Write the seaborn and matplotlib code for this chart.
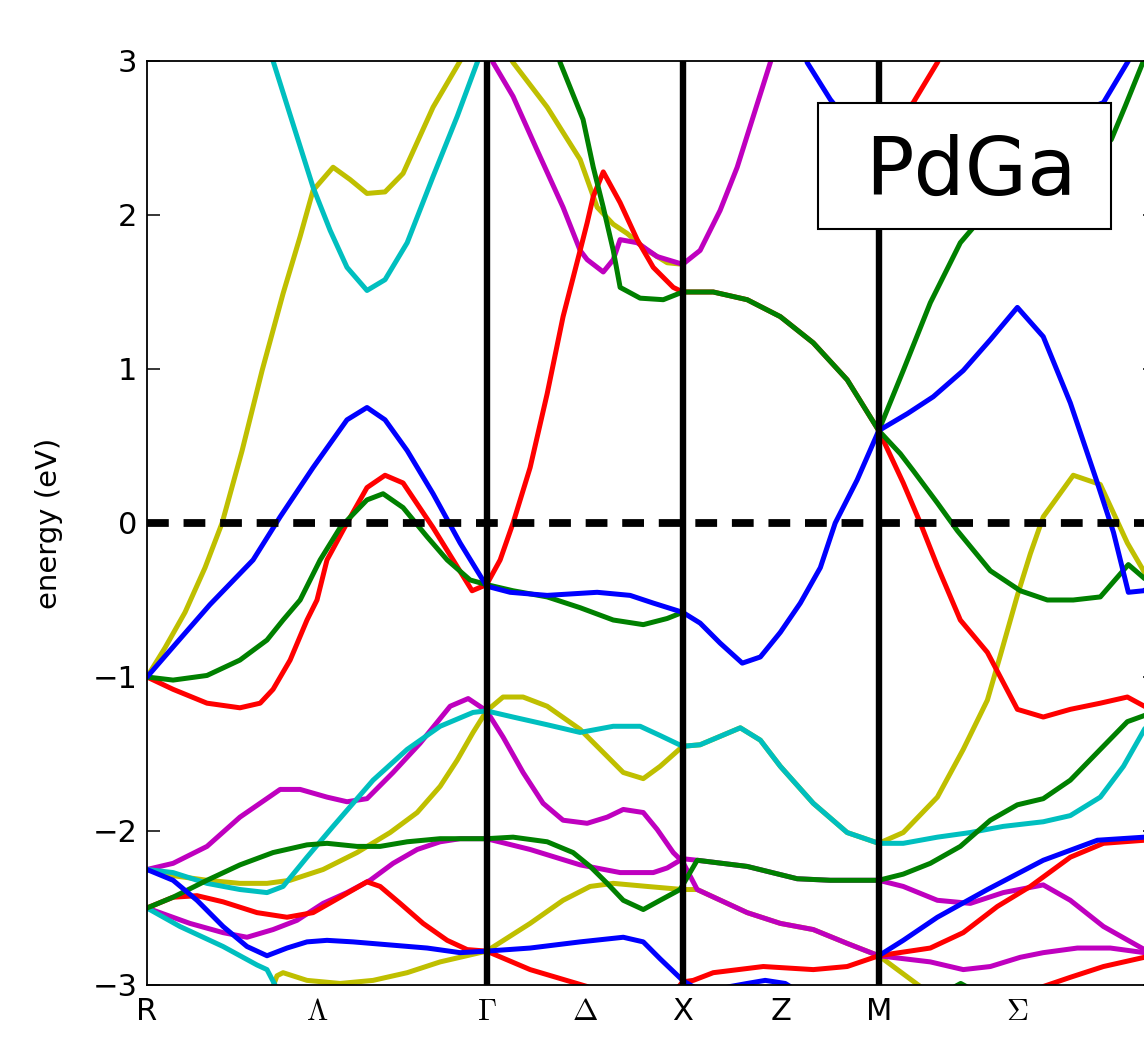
import matplotlib
matplotlib.use("Agg")
import matplotlib.pyplot as plt
import seaborn as sns
from matplotlib.patches import Rectangle

# ---------------- data ----------------
# high-symmetry points along the k-path (path length units)
kpoint_labels = ["R", r"$\Lambda$", r"$\Gamma$", r"$\Delta$", "X", "Z", "M", r"$\Sigma$", r"$\Gamma$"]
kpoint_pos = [0.0, 0.866, 1.732, 2.232, 2.732, 3.232, 3.732, 4.439, 5.146]
kpoint_lines = [1.732, 2.732, 3.732]
energy_ticks = [-3, -2, -1, 0, 1, 2, 3]
title_text = "PdGa"

# band curves: (k, energy in eV)
yellow_1 = [(0, -1.00), (0.092, -0.81), (0.194, -0.58), (0.296, -0.29), (0.383, 0.00), (0.485, 0.47),
            (0.587, 0.99), (0.694, 1.49), (0.781, 1.86), (0.847, 2.16), (0.949, 2.31), (1.036, 2.23),
            (1.122, 2.14), (1.214, 2.15), (1.306, 2.27), (1.459, 2.70), (1.597, 3.00), (1.732, 3.27),
            (1.867, 2.99), (2.041, 2.70), (2.209, 2.36), (2.296, 2.05), (2.378, 1.94), (2.449, 1.88),
            (2.551, 1.77), (2.653, 1.69), (2.732, 1.68)]
yellow_2 = [(0, -2.25), (0.133, -2.29), (0.306, -2.32), (0.474, -2.34), (0.612, -2.34), (0.730, -2.32),
            (0.898, -2.25), (1.071, -2.14), (1.240, -2.01), (1.378, -1.88), (1.495, -1.71), (1.582, -1.54),
            (1.663, -1.36), (1.732, -1.22), (1.816, -1.13), (1.918, -1.13), (2.041, -1.19), (2.209, -1.34),
            (2.327, -1.49), (2.429, -1.62), (2.531, -1.66), (2.617, -1.58), (2.732, -1.45), (2.821, -1.44),
            (3.026, -1.33), (3.128, -1.41), (3.230, -1.58), (3.398, -1.82), (3.571, -2.01), (3.732, -2.08),
            (3.857, -2.01), (4.031, -1.78), (4.163, -1.47), (4.286, -1.15), (4.352, -0.86), (4.439, -0.47),
            (4.505, -0.20), (4.571, 0.04), (4.724, 0.31), (4.862, 0.25), (5.000, -0.13), (5.087, -0.32),
            (5.146, -0.44)]
yellow_3 = [(0.628, -3.06), (0.663, -2.94), (0.694, -2.92), (0.816, -2.97), (0.985, -2.99), (1.153, -2.97),
            (1.327, -2.92), (1.495, -2.85), (1.732, -2.78), (1.954, -2.60), (2.122, -2.45), (2.260, -2.36),
            (2.378, -2.34), (2.551, -2.36), (2.732, -2.38), (2.806, -2.38), (3.061, -2.53), (3.230, -2.60),
            (3.398, -2.64), (3.571, -2.73), (3.732, -2.81), (3.944, -3.01), (3.995, -3.10)]

magenta_top = [(1.732, 3.10), (1.765, 2.99), (1.867, 2.77), (1.990, 2.42), (2.122, 2.05), (2.209, 1.77),
               (2.245, 1.71), (2.327, 1.63), (2.378, 1.71), (2.413, 1.84), (2.500, 1.82), (2.602, 1.73),
               (2.732, 1.68), (2.821, 1.77), (2.923, 2.03), (3.010, 2.31), (3.092, 2.64), (3.179, 2.99),
               (3.219, 3.17)]
magenta_1 = [(0, -2.25), (0.133, -2.21), (0.306, -2.10), (0.474, -1.91), (0.679, -1.73), (0.781, -1.73),
             (0.918, -1.78), (1.020, -1.81), (1.122, -1.79), (1.255, -1.62), (1.393, -1.43), (1.546, -1.19),
             (1.638, -1.14), (1.732, -1.22), (1.816, -1.39), (1.918, -1.62), (2.020, -1.82), (2.122, -1.93),
             (2.245, -1.95), (2.347, -1.91), (2.429, -1.86), (2.531, -1.88), (2.602, -1.99), (2.684, -2.14),
             (2.732, -2.20), (2.806, -2.38), (3.061, -2.53), (3.230, -2.60), (3.398, -2.64), (3.571, -2.73),
             (3.732, -2.81), (3.995, -2.85), (4.163, -2.90), (4.301, -2.88), (4.454, -2.82), (4.571, -2.79),
             (4.745, -2.76), (4.913, -2.76), (5.087, -2.79), (5.146, -2.79)]
magenta_2 = [(0, -2.50), (0.219, -2.60), (0.388, -2.66), (0.510, -2.69), (0.643, -2.64), (0.765, -2.58),
             (0.898, -2.47), (1.020, -2.40), (1.138, -2.32), (1.255, -2.21), (1.378, -2.12), (1.495, -2.07),
             (1.597, -2.05), (1.732, -2.05), (1.954, -2.12), (2.209, -2.22), (2.413, -2.27), (2.582, -2.27),
             (2.653, -2.24), (2.732, -2.18), (2.806, -2.19), (3.061, -2.23), (3.316, -2.31), (3.485, -2.32),
             (3.732, -2.32), (3.857, -2.36), (4.031, -2.45), (4.199, -2.47), (4.367, -2.40), (4.571, -2.35),
             (4.709, -2.45), (4.878, -2.62), (5.087, -2.77), (5.146, -2.79)]

red_1 = [(0, -1.00), (0.133, -1.08), (0.306, -1.17), (0.474, -1.20), (0.577, -1.17), (0.643, -1.08),
         (0.730, -0.89), (0.816, -0.63), (0.867, -0.50), (0.918, -0.24), (1.020, 0.00), (1.122, 0.23),
         (1.214, 0.31), (1.306, 0.26), (1.459, -0.03), (1.561, -0.24), (1.658, -0.44), (1.732, -0.40),
         (1.801, -0.24), (1.867, 0.00), (1.954, 0.36), (2.041, 0.84), (2.122, 1.34), (2.209, 1.77),
         (2.245, 1.95), (2.276, 2.12), (2.327, 2.28), (2.413, 2.08), (2.500, 1.84), (2.582, 1.66),
         (2.684, 1.53), (2.732, 1.50), (2.888, 1.50), (3.061, 1.45), (3.230, 1.34), (3.398, 1.17),
         (3.571, 0.93), (3.732, 0.60), (3.857, 0.26), (3.944, 0.00), (4.031, -0.28), (4.148, -0.63),
         (4.286, -0.84), (4.439, -1.21), (4.571, -1.26), (4.709, -1.21), (4.862, -1.17), (5.000, -1.13),
         (5.087, -1.19), (5.146, -1.22)]
red_2 = [(0, -2.50), (0.133, -2.43), (0.255, -2.42), (0.388, -2.46), (0.561, -2.53), (0.714, -2.56),
         (0.847, -2.53), (0.985, -2.43), (1.122, -2.33), (1.189, -2.36), (1.291, -2.47), (1.408, -2.60),
         (1.531, -2.71), (1.633, -2.77), (1.732, -2.78), (1.954, -2.90), (2.245, -3.01), (2.449, -3.15),
         (2.653, -3.10), (2.732, -2.98), (2.786, -2.97), (2.888, -2.92), (3.143, -2.88), (3.398, -2.90),
         (3.571, -2.88), (3.732, -2.81), (3.995, -2.76), (4.163, -2.66), (4.337, -2.49), (4.505, -2.36),
         (4.709, -2.17), (4.878, -2.08), (5.087, -2.06), (5.146, -2.05)]
red_top = [(3.732, 2.49), (3.908, 2.73), (4.031, 2.99), (4.071, 3.10)]
red_bottom = [(4.454, -3.10), (4.571, -3.01), (4.709, -2.95), (4.878, -2.88), (5.087, -2.82), (5.146, -2.79)]

cyan_1 = [(0.526, 3.36), (0.643, 3.00), (0.730, 2.65), (0.847, 2.18), (0.934, 1.90), (1.020, 1.66),
          (1.122, 1.51), (1.214, 1.58), (1.327, 1.82), (1.459, 2.25), (1.582, 2.64), (1.684, 2.99),
          (1.732, 3.14)]
cyan_2 = [(0, -2.25), (0.133, -2.27), (0.306, -2.34), (0.474, -2.38), (0.612, -2.40), (0.694, -2.36),
          (0.816, -2.17), (0.949, -1.97), (1.051, -1.82), (1.153, -1.67), (1.327, -1.47), (1.495, -1.32),
          (1.663, -1.23), (1.732, -1.22), (1.867, -1.26), (2.041, -1.31), (2.209, -1.36), (2.378, -1.32),
          (2.515, -1.32), (2.617, -1.38), (2.732, -1.45), (2.821, -1.44), (3.026, -1.33), (3.128, -1.41),
          (3.230, -1.58), (3.398, -1.82), (3.571, -2.01), (3.732, -2.08), (3.857, -2.08), (4.031, -2.04),
          (4.199, -2.01), (4.367, -1.97), (4.571, -1.94), (4.709, -1.90), (4.862, -1.78), (4.980, -1.58),
          (5.087, -1.34), (5.146, -1.22)]
cyan_3 = [(0, -2.50), (0.168, -2.62), (0.388, -2.75), (0.561, -2.87), (0.612, -2.90), (0.653, -3.00),
          (0.679, -3.10)]

green_1 = [(0, -1.00), (0.133, -1.02), (0.306, -0.99), (0.474, -0.89), (0.612, -0.76), (0.694, -0.63),
           (0.781, -0.50), (0.883, -0.24), (0.985, -0.03), (1.122, 0.15), (1.204, 0.19), (1.306, 0.10),
           (1.429, -0.09), (1.531, -0.24), (1.648, -0.37), (1.732, -0.40), (1.867, -0.44), (2.041, -0.48),
           (2.209, -0.55), (2.378, -0.63), (2.531, -0.66), (2.653, -0.62), (2.732, -0.58)]
green_2 = [(2.056, 3.30), (2.107, 2.99), (2.224, 2.62), (2.276, 2.31), (2.327, 2.05), (2.378, 1.77),
           (2.413, 1.53), (2.515, 1.46), (2.633, 1.45), (2.732, 1.50), (2.888, 1.50), (3.061, 1.45),
           (3.230, 1.34), (3.398, 1.17), (3.571, 0.93), (3.732, 0.60), (3.857, 0.99), (3.995, 1.43),
           (4.148, 1.82), (4.235, 1.95), (4.352, 2.06), (4.607, 2.21), (4.811, 2.36), (4.918, 2.49),
           (4.990, 2.71), (5.082, 3.00), (5.146, 3.20)]
green_3 = [(0, -2.50), (0.133, -2.43), (0.306, -2.32), (0.474, -2.22), (0.643, -2.14), (0.816, -2.09),
           (0.918, -2.08), (1.071, -2.10), (1.189, -2.10), (1.327, -2.07), (1.495, -2.05), (1.732, -2.05),
           (1.867, -2.04), (2.041, -2.07), (2.173, -2.14), (2.260, -2.23), (2.347, -2.34), (2.429, -2.45),
           (2.531, -2.51), (2.617, -2.45), (2.719, -2.38), (2.806, -2.19), (3.061, -2.23), (3.316, -2.31),
           (3.485, -2.32), (3.732, -2.32), (3.857, -2.28), (3.995, -2.21), (4.148, -2.10), (4.301, -1.93),
           (4.439, -1.83), (4.571, -1.79), (4.709, -1.67), (4.862, -1.47), (5.000, -1.29), (5.087, -1.25),
           (5.146, -1.22)]
green_4 = [(3.732, 0.60), (3.842, 0.45), (3.908, 0.34), (4.031, 0.13), (4.133, -0.05), (4.301, -0.31),
           (4.454, -0.44), (4.592, -0.50), (4.724, -0.50), (4.862, -0.48), (5.005, -0.27), (5.087, -0.36),
           (5.146, -0.40)]
green_bottom = [(4.05, -3.06), (4.15, -2.99), (4.25, -3.06)]

blue_1 = [(0, -1.00), (0.143, -0.79), (0.321, -0.53), (0.541, -0.24), (0.679, 0.04), (0.847, 0.36),
          (1.020, 0.67), (1.122, 0.75), (1.214, 0.67), (1.327, 0.47), (1.459, 0.19), (1.597, -0.13),
          (1.732, -0.41), (1.852, -0.45), (2.041, -0.47), (2.296, -0.45), (2.464, -0.47), (2.582, -0.52),
          (2.732, -0.58), (2.821, -0.65), (2.923, -0.78), (3.036, -0.91), (3.128, -0.87), (3.230, -0.71),
          (3.332, -0.52), (3.434, -0.29), (3.510, 0.00), (3.622, 0.28), (3.732, 0.60), (3.878, 0.71),
          (4.010, 0.82), (4.163, 0.99), (4.301, 1.19), (4.439, 1.40), (4.571, 1.21), (4.709, 0.78),
          (4.847, 0.26), (4.929, -0.06), (5.005, -0.45), (5.082, -0.44), (5.146, -0.40)]
blue_2 = [(0, -2.25), (0.133, -2.32), (0.255, -2.45), (0.388, -2.62), (0.510, -2.75), (0.612, -2.81),
          (0.714, -2.76), (0.816, -2.72), (0.918, -2.71), (1.051, -2.72), (1.240, -2.74), (1.429, -2.76),
          (1.597, -2.79), (1.732, -2.78), (1.954, -2.76), (2.209, -2.72), (2.429, -2.69), (2.531, -2.72),
          (2.617, -2.83), (2.732, -2.97), (2.770, -3.00), (2.847, -3.05), (2.974, -3.01), (3.061, -2.99),
          (3.153, -2.97), (3.255, -2.99), (3.332, -3.05), (3.408, -3.10)]
blue_3 = [(3.732, -2.81), (3.857, -2.71), (4.031, -2.56), (4.286, -2.38), (4.571, -2.19), (4.847, -2.06),
          (5.087, -2.04), (5.146, -2.04)]
blue_top = [(3.342, 3.14), (3.367, 2.99), (3.485, 2.75), (3.612, 2.55), (3.732, 2.49), (4.352, 2.55),
            (4.658, 2.62), (4.878, 2.73), (5.000, 2.99), (5.066, 3.14)]

# classic matplotlib single-letter colours
c_b, c_g, c_r, c_c, c_m, c_y = "#0000ff", "#008000", "#ff0000", "#00bfbf", "#bf00bf", "#bfbf00"

# drawing order (later = on top)
curves = [
    (yellow_1, c_y), (yellow_2, c_y), (yellow_3, c_y),
    (magenta_top, c_m), (magenta_1, c_m), (magenta_2, c_m),
    (red_1, c_r), (red_2, c_r), (red_top, c_r), (red_bottom, c_r),
    (cyan_1, c_c), (cyan_2, c_c), (cyan_3, c_c),
    (green_1, c_g), (green_2, c_g), (green_3, c_g), (green_4, c_g), (green_bottom, c_g),
    (blue_1, c_b), (blue_2, c_b), (blue_3, c_b), (blue_top, c_b),
]

# ---------------- style ----------------
sns.set_style("white")
plt.rcParams["font.family"] = ["DejaVu Sans"]
plt.rcParams["mathtext.fontset"] = "cm"
plt.rcParams["axes.unicode_minus"] = True
plt.rcParams["text.color"] = "black"
plt.rcParams["axes.labelcolor"] = "black"

W, H = 1144, 1038
fig = plt.figure(figsize=(W / 100, H / 100), dpi=100)
ax = fig.add_axes([147 / W, (H - 985) / H, (1156 - 147) / W, 924 / H])

for pts, col in curves:
    ks = [p[0] for p in pts]
    es = [p[1] for p in pts]
    sns.lineplot(x=ks, y=es, color=col, linewidth=3.6, sort=False, estimator=None,
                 errorbar=None, legend=False, ax=ax, zorder=2)

for kx in kpoint_lines:
    ax.axvline(kx, color="black", lw=4.6, zorder=4)
ax.axhline(0, color="black", lw=5.6, ls=(0, (2.8, 1.9)), zorder=5)

ax.set_xlim(kpoint_pos[0], kpoint_pos[-1])
ax.set_ylim(energy_ticks[0], energy_ticks[-1])
ax.set_yticks(energy_ticks)
ax.set_xticks(kpoint_pos)
ax.set_xticklabels(kpoint_labels)
ax.set_ylabel("energy (eV)", fontsize=21, color="black")
ax.yaxis.set_label_coords(-0.083, 0.5)

ax.tick_params(axis="y", direction="in", length=9.4, width=1.1, left=True, right=True,
               labelsize=22, pad=7, colors="black")
ax.tick_params(axis="x", length=0, labelsize=22, pad=9, colors="black")
for sp in ax.spines.values():
    sp.set_visible(True)
    sp.set_color("black")
    sp.set_linewidth(1.3)

# label box
ax.add_patch(Rectangle((0.665, 0.818), 0.2904, 0.1363, transform=ax.transAxes,
                       facecolor="white", edgecolor="black", lw=1.5, zorder=10, clip_on=False))
ax.text(0.817, 0.855, title_text, transform=ax.transAxes, ha="center", va="baseline",
        fontsize=58, color="black", zorder=11)

fig.savefig("out.png", dpi=100)
